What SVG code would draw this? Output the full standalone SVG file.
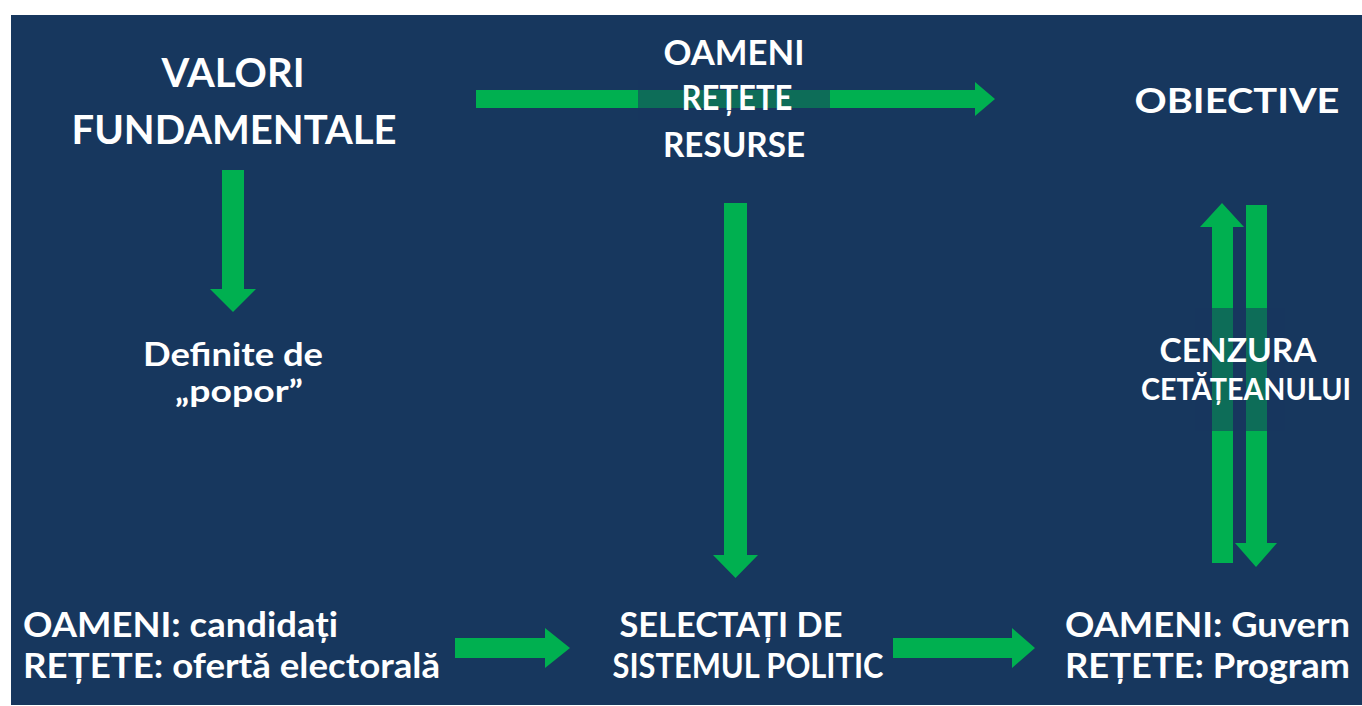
<svg xmlns="http://www.w3.org/2000/svg" width="1362" height="706" viewBox="0 0 1362 706">
<style>
.bg{fill:#17375E}
.arr{fill:#00B050}
.shade{fill:#17375E;opacity:0.55}
text{font-family:Lato,"Open Sans","Liberation Sans",sans-serif;font-weight:bold;fill:#FFFFFF;text-anchor:middle}
.big{font-size:40px}
.med{font-size:34px}
.sm{font-size:32px}
.xs{font-size:30px}
.left{text-anchor:start}
</style>
<rect x="0" y="0" width="1362" height="706" fill="#FFFFFF"/>
<rect class="bg" x="11" y="15" width="1351" height="690"/>
<g id="connectors">
<polygon class="arr" points="476,90 975,90 975,82 995,99 975,116 975,108 476,108"/>
<polygon class="arr" points="222,170 244,170 244,289 256,289 233,312 210,289 222,289"/>
<polygon class="arr" points="724,203 747,203 747,555 758,555 735.5,578 713,555 724,555"/>
<polygon class="arr" points="1212,563 1233,563 1233,227 1244,227 1222,203 1200,227 1212,227"/>
<polygon class="arr" points="1246,205 1267,205 1267,543 1277,543 1256,567 1235,543 1246,543"/>
<polygon class="arr" points="455,638 545,638 545,628 570,648 545,668 545,658 455,658"/>
<polygon class="arr" points="893,638 1012,638 1012,628 1035,648 1012,668 1012,658 893,658"/>
<rect class="shade" x="638" y="80" width="192" height="40"/>
<rect class="shade" x="1195" y="308" width="90" height="123"/>
</g>
<g id="valori">
<text class="big" x="233" y="87" textLength="143" lengthAdjust="spacingAndGlyphs">VALORI</text>
<text class="big" x="234" y="144" textLength="325" lengthAdjust="spacingAndGlyphs">FUNDAMENTALE</text>
</g>
<g id="oameni-retete-resurse">
<text class="med" x="734" y="65" textLength="141" lengthAdjust="spacingAndGlyphs">OAMENI</text>
<text class="med" x="737" y="110" textLength="111" lengthAdjust="spacingAndGlyphs">REȚETE</text>
<text class="med" x="734" y="157" textLength="142" lengthAdjust="spacingAndGlyphs">RESURSE</text>
</g>
<g id="obiective">
<text class="med" x="1237" y="113" textLength="205" lengthAdjust="spacingAndGlyphs">OBIECTIVE</text>
</g>
<g id="definite">
<text x="233" y="366" font-size="33" textLength="180" lengthAdjust="spacingAndGlyphs">Definite de</text>
<text class="xs" x="239" y="402" textLength="128" lengthAdjust="spacingAndGlyphs">„popor”</text>
</g>
<g id="cenzura">
<text class="sm" x="1238" y="362" textLength="157" lengthAdjust="spacingAndGlyphs">CENZURA</text>
<text class="xs" x="1246" y="400" textLength="210" lengthAdjust="spacingAndGlyphs">CETĂȚEANULUI</text>
</g>
<g id="candidati">
<text class="med left" x="23" y="637" textLength="315" lengthAdjust="spacingAndGlyphs">OAMENI: candidați</text>
<text class="med left" x="23" y="678" textLength="417" lengthAdjust="spacingAndGlyphs">REȚETE: ofertă electorală</text>
</g>
<g id="selectati">
<text class="med" x="731" y="637" textLength="223" lengthAdjust="spacingAndGlyphs">SELECTAȚI DE</text>
<text class="med" x="748" y="678" textLength="271" lengthAdjust="spacingAndGlyphs">SISTEMUL POLITIC</text>
</g>
<g id="guvern">
<text class="med left" x="1065" y="637" textLength="285" lengthAdjust="spacingAndGlyphs">OAMENI: Guvern</text>
<text class="med left" x="1065" y="678" textLength="285" lengthAdjust="spacingAndGlyphs">REȚETE:  Program</text>
</g>
</svg>
